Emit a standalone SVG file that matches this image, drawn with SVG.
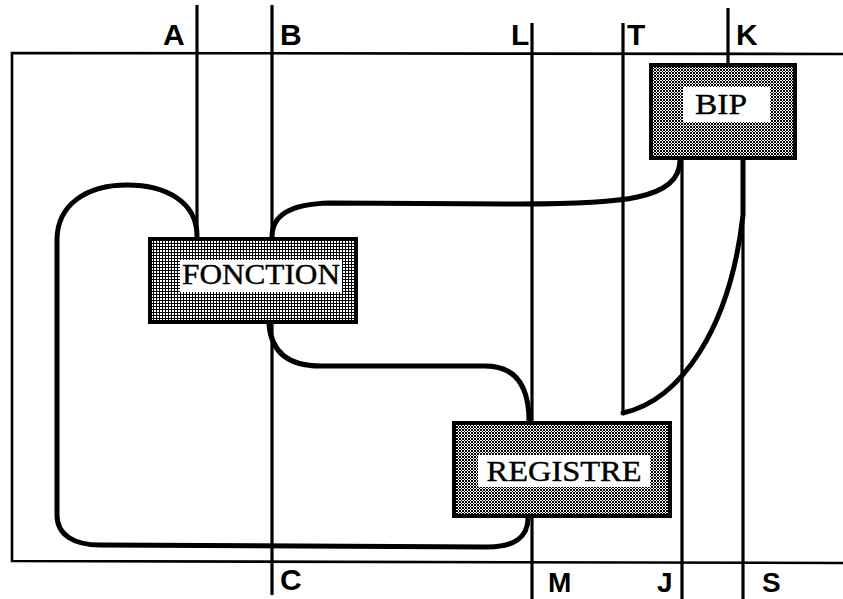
<svg xmlns="http://www.w3.org/2000/svg" width="843" height="599" viewBox="0 0 843 599">
  <defs>
    <!-- halftone screens for the boxes -->
    <pattern id="screenLight" width="3" height="3" patternUnits="userSpaceOnUse">
      <rect width="3" height="3" fill="#ffffff"/>
      <rect x="0" y="0" width="2" height="2" fill="#000000"/>
      <rect x="2" y="2" width="1" height="1" fill="#000000"/>
    </pattern>
    <pattern id="screenDark" width="3" height="3" patternUnits="userSpaceOnUse">
      <rect width="3" height="3" fill="#000000"/>
      <rect x="1" y="1" width="2" height="2" fill="#ffffff"/>
    </pattern>
    <style>
      .frame { fill: none; stroke: #000; stroke-width: 2.6; }
      .bus { fill: none; stroke: #000; stroke-width: 3.2; }
      .link { fill: none; stroke: #000; stroke-width: 5; stroke-linecap: round; }
      .box { stroke: #000; stroke-width: 4; }
      .label { fill: #fff; }
      .name { font-family: "Liberation Serif", "Times New Roman", serif; font-size: 30px; fill: #000; text-anchor: middle; stroke: #000; stroke-width: 0.4; }
      .pin { font-family: "Liberation Sans", Arial, sans-serif; font-weight: bold; font-size: 30px; fill: #000; }
      .pin.low { font-size: 28px; }
    </style>
  </defs>

  <rect width="843" height="599" fill="#ffffff"/>

  <!-- outer frame -->
  <path class="frame" d="M843 54 L12 53 L12 561 L843 563"/>

  <!-- signal lines -->
  <g id="buses">
    <line class="bus" x1="197" y1="5" x2="197" y2="239"/>
    <line class="bus" x1="272" y1="5" x2="272" y2="595"/>
    <line class="bus" x1="532" y1="23" x2="532" y2="599"/>
    <line class="bus" x1="623" y1="23" x2="623" y2="413"/>
    <line class="bus" x1="728" y1="8" x2="728" y2="65"/>
    <line class="bus" x1="682" y1="158" x2="682" y2="599"/>
    <line class="bus" x1="743" y1="158" x2="743" y2="599"/>
  </g>

  <!-- connectors -->
  <g id="connectors">
    <!-- A loop round to REGISTRE bottom -->
    <path class="link" d="M197 236 C197 202 166 185 127 185 C86 185 57 205 57 240 L57 515 C57 535 74 545 100 545 L488 547 C514 547 528 537 528 518"/>
    <!-- FONCTION (B) to BIP -->
    <path class="link" d="M272 237 C272 215 290 204 330 203 L520 204 C620 204 680 200 680 160"/>
    <!-- FONCTION bottom to REGISTRE top -->
    <path class="link" d="M269 324 C271 350 286 366 320 366 L485 366 C515 366 529 385 529 421"/>
    <!-- T to S via curve -->
    <path class="link" d="M623 413 C680 400 730 330 743 215 L743 160"/>
  </g>

  <!-- nodes -->
  <g id="node-fonction">
    <rect class="box" x="150" y="239" width="206" height="83" fill="url(#screenDark)"/>
    <rect class="label" x="180" y="260" width="162" height="32"/>
    <text class="name" x="261" y="284" textLength="158" lengthAdjust="spacingAndGlyphs">FONCTION</text>
  </g>
  <g id="node-bip">
    <rect class="box" x="651" y="65" width="144" height="93" fill="url(#screenLight)"/>
    <rect class="label" x="683" y="87" width="87" height="35"/>
    <text class="name" x="721" y="114" textLength="52" lengthAdjust="spacingAndGlyphs">BIP</text>
  </g>
  <g id="node-registre">
    <rect class="box" x="454" y="423" width="216" height="93" fill="url(#screenLight)"/>
    <rect class="label" x="478" y="455" width="172" height="32"/>
    <text class="name" x="564" y="481" textLength="155" lengthAdjust="spacingAndGlyphs">REGISTRE</text>
  </g>

  <!-- line names -->
  <g id="pin-names">
    <text class="pin" x="163" y="45">A</text>
    <text class="pin" x="280" y="45">B</text>
    <text class="pin" x="511" y="45">L</text>
    <text class="pin" x="627" y="45">T</text>
    <text class="pin" x="736" y="45">K</text>
    <text class="pin" x="280" y="590">C</text>
    <text class="pin low" x="548" y="592">M</text>
    <text class="pin low" x="657" y="592">J</text>
    <text class="pin low" x="762" y="592">S</text>
  </g>
</svg>
